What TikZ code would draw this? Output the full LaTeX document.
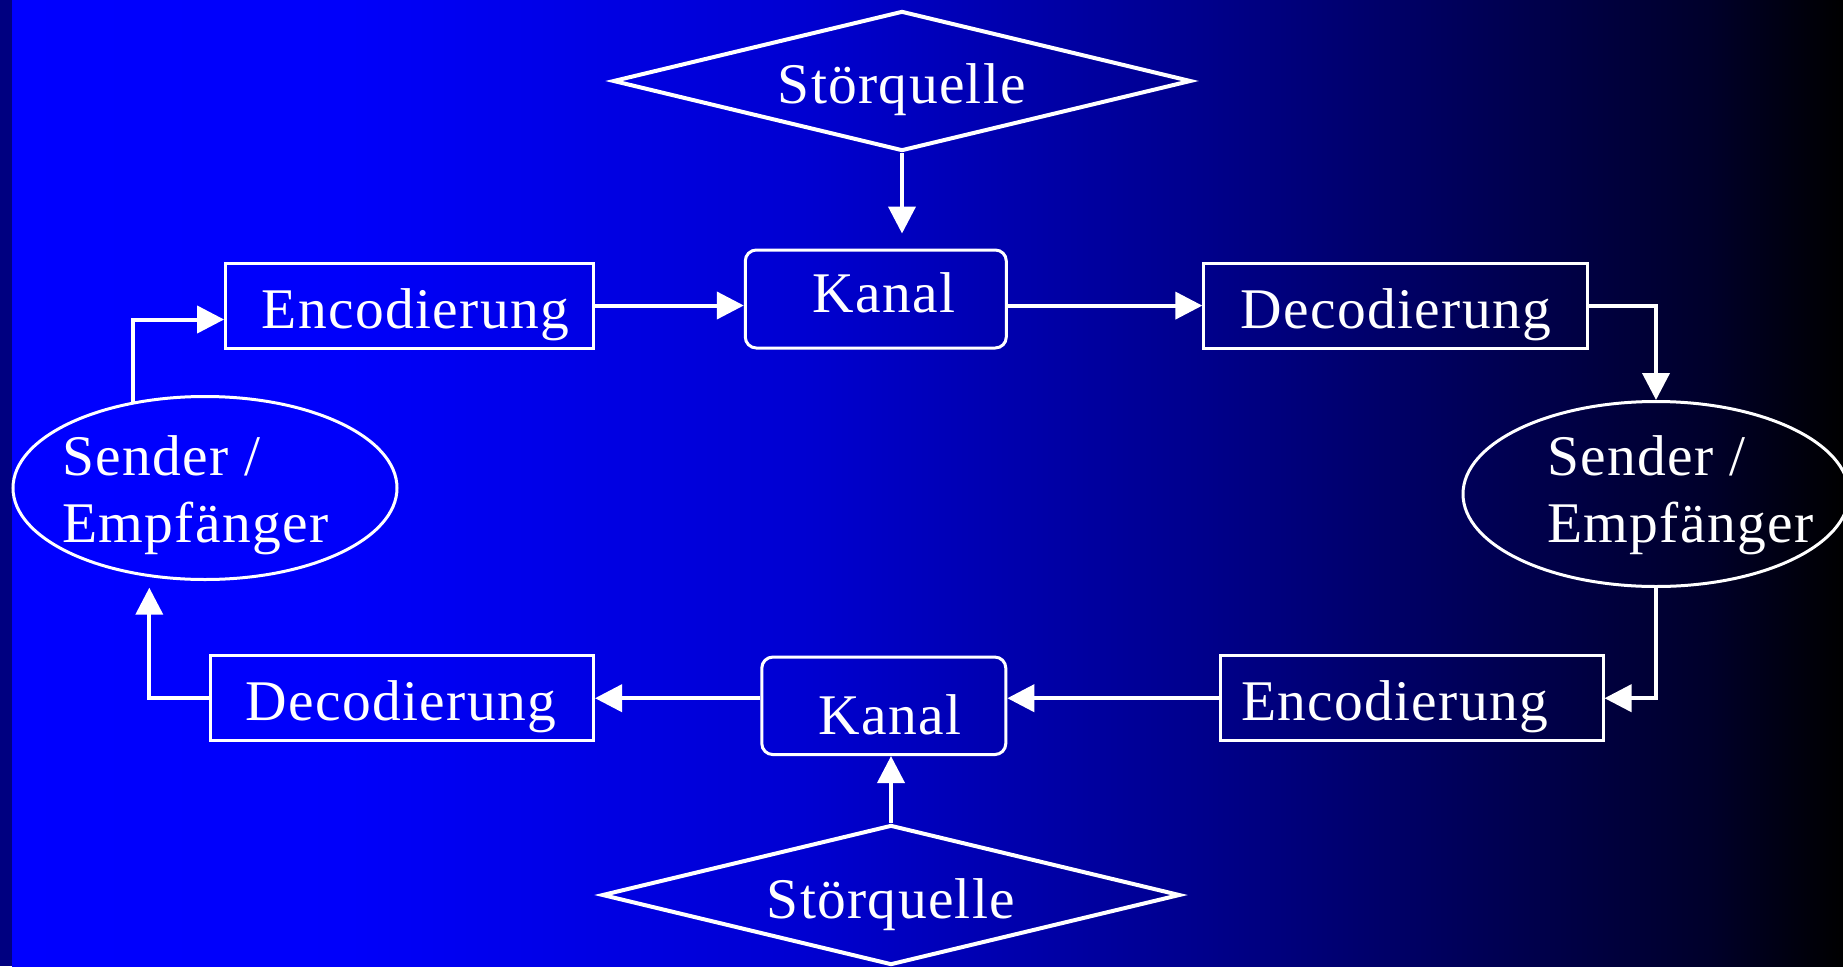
\documentclass[tikz,border=0pt]{standalone}
\usepackage{fontspec}
\setmainfont{Liberation Serif}[LetterSpace=2.3]
\usetikzlibrary{arrows.meta,shapes.geometric}
\definecolor{navystrip}{RGB}{0,0,128}
\definecolor{bgA}{RGB}{0,0,255}
\definecolor{bgB}{RGB}{0,0,250}
\definecolor{bgC}{RGB}{0,0,208}
\definecolor{bgD}{RGB}{0,0,138}
\definecolor{bgE}{RGB}{0,0,80}
\definecolor{bgF}{RGB}{0,0,42}
\definecolor{bgG}{RGB}{0,0,0}

\begin{document}
\begin{tikzpicture}[x=1pt,y=-1pt,
  font=\fontsize{57.5pt}{67pt}\selectfont,
  lbl/.style={text=white, inner sep=0pt},
  plainbox/.style={draw=white, line width=3pt, inner sep=0pt},
  kanalbox/.style={plainbox, rounded corners=11pt},
  oval/.style={ellipse, draw=white, line width=3pt, inner sep=0pt},
  rhomb/.style={diamond, draw=white, line width=4pt, inner sep=0pt,
                minimum width=578pt, minimum height=140pt},
  conn/.style={draw=white, line width=4pt,
               -{Triangle[length=27pt,width=27pt]}},
]
\useasboundingbox (0,0) rectangle (1843,966);

% background: dark strip on the left, then blue fading to black
\fill[navystrip] (0,0) rectangle (12,966);
\shade[left color=bgA,right color=bgB] (12,0)   rectangle (351,966);
\shade[left color=bgB,right color=bgC] (350,0)  rectangle (811,966);
\shade[left color=bgC,right color=bgD] (810,0)  rectangle (1211,966);
\shade[left color=bgD,right color=bgE] (1210,0) rectangle (1511,966);
\shade[left color=bgE,right color=bgF] (1510,0) rectangle (1711,966);
\shade[left color=bgF,right color=bgG] (1710,0) rectangle (1843,966);

% shapes
\node[rhomb] (sq1) at (902,81) {};
\node[rhomb] (sq2) at (891,895) {};

\node[plainbox, minimum width=368pt, minimum height=85pt]  (enc1) at (409.6,305.5) {};
\node[kanalbox, minimum width=261pt, minimum height=98pt]  (k1)   at (875.8,299) {};
\node[plainbox, minimum width=384pt, minimum height=85pt]  (dec1) at (1395.8,305.6) {};

\node[plainbox, minimum width=383pt, minimum height=84.5pt] (enc2) at (1411.5,698.2) {};
\node[kanalbox, minimum width=244pt, minimum height=97.5pt] (k2)   at (883.8,705.8) {};
\node[plainbox, minimum width=383pt, minimum height=84.5pt] (dec2) at (402,698.2) {};

\node[oval, minimum width=384pt, minimum height=183pt] (e1) at (205,488) {};
\node[oval, minimum width=386pt, minimum height=185pt] (e2) at (1656,494) {};

% texts
\node[lbl, anchor=base] (tsq1)  at (902,103)    {Störquelle};
\node[lbl, anchor=base] (tsq2)  at (891,918)    {Störquelle};
\node[lbl, anchor=base] (tenc1) at (415.5,328)  {Encodierung};
\node[lbl, anchor=base] (tk1)   at (884,312.7)  {Kanal};
\node[lbl, anchor=base] (tdec1) at (1396,328)   {Decodierung};
\node[lbl, anchor=base] (tenc2) at (1394.5,720.5) {Encodierung};
\node[lbl, anchor=base] (tk2)   at (890,734.6)  {Kanal};
\node[lbl, anchor=base] (tdec2) at (401,720.5)  {Decodierung};
\node[lbl, anchor=base west] (te1a) at (62,475)   {Sender /};
\node[lbl, anchor=base west] (te1b) at (62,542)   {Empfänger};
\node[lbl, anchor=base west] (te2a) at (1547,475) {Sender /};
\node[lbl, anchor=base west] (te2b) at (1547,542) {Empfänger};

% connectors
\coordinate (lt) at (149.3,587.7);
\draw[conn, shorten >=15pt] (sq1.south) -- (sq1.south |- k1.north);
\draw[conn] (sq2.north) -- (sq2.north |- k2.south);
\draw[conn] (enc1.east) -- (enc1.east -| k1.west);
\draw[conn] (k1.east |- dec1.west) -- (dec1.west);
\draw[conn] (dec1.east) -| (e2.north);
\draw[conn] (e2.south) |- (enc2.east);
\draw[conn] (enc2.west) -- (enc2.west -| k2.east);
\draw[conn] (k2.west |- dec2.east) -- (dec2.east);
\draw[conn] (dec2.west) -| (lt);
\draw[conn] (e1.130) |- ([yshift=-14pt]enc1.west);
\end{tikzpicture}
\end{document}
